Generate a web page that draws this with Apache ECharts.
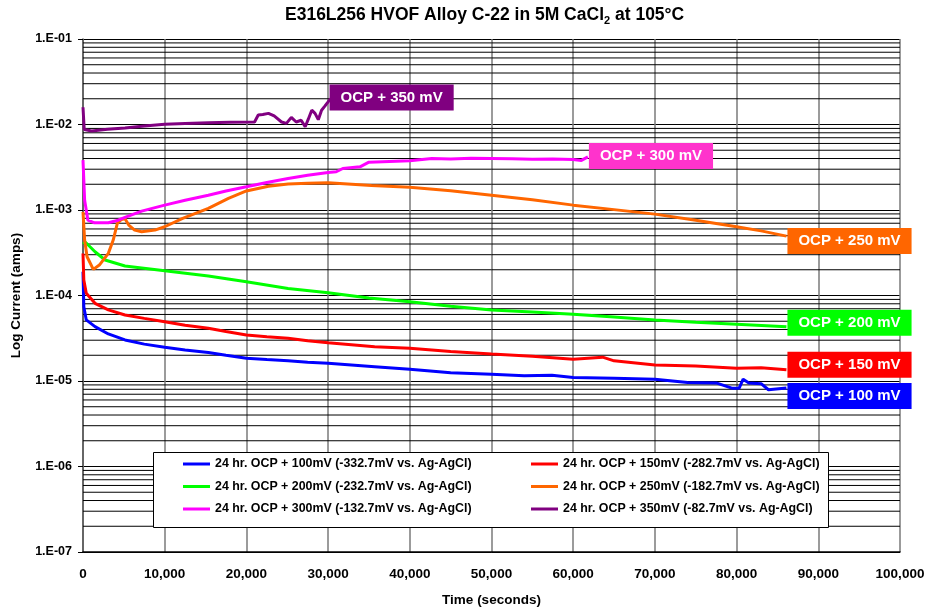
<!DOCTYPE html>
<html>
<head>
<meta charset="utf-8">
<script src="https://cdn.jsdelivr.net/npm/echarts@6/dist/echarts.min.js"></script>
<style>html,body{margin:0;padding:0;background:#fff}#c{width:930px;height:609px}</style>
</head>
<body>
<div id="c"></div>
<script>
// ---- data (time in seconds, current in amps) ----
const xTicks = [0, 10000, 20000, 30000, 40000, 50000, 60000, 70000, 80000, 90000, 100000];
const decades = [1e-7, 1e-6, 1e-5, 1e-4, 1e-3, 1e-2];
const minorMultipliers = [2, 3, 4, 5, 6, 7, 8, 9];

const seriesNames = [
  '24 hr. OCP + 100mV (-332.7mV vs. Ag-AgCl)',
  '24 hr. OCP + 150mV (-282.7mV vs. Ag-AgCl)',
  '24 hr. OCP + 200mV (-232.7mV vs. Ag-AgCl)',
  '24 hr. OCP + 250mV (-182.7mV vs. Ag-AgCl)',
  '24 hr. OCP + 300mV (-132.7mV vs. Ag-AgCl)',
  '24 hr. OCP + 350mV (-82.7mV vs. Ag-AgCl)'
];
const endLabels = ['OCP + 100 mV', 'OCP + 150 mV', 'OCP + 200 mV', 'OCP + 250 mV', 'OCP + 300 mV', 'OCP + 350 mV'];

const time100 = [0, 100, 400, 1470, 3100, 5140, 7500, 10000, 12500, 15340, 17500, 20000, 22500, 25100, 27500, 30000, 35700, 40000, 45000, 50000, 54000, 57400, 60000, 65000, 70000, 74000, 77500, 79500, 80300, 80800, 81500, 83000, 83900, 86100];
const cur100 = [1.9e-4, 7.4e-5, 5.18e-5, 4.32e-5, 3.55e-5, 3.02e-5, 2.7e-5, 2.48e-5, 2.3e-5, 2.15e-5, 2.0e-5, 1.85e-5, 1.78e-5, 1.72e-5, 1.66e-5, 1.61e-5, 1.47e-5, 1.37e-5, 1.25e-5, 1.2e-5, 1.15e-5, 1.17e-5, 1.1e-5, 1.08e-5, 1.05e-5, 9.6e-6, 9.5e-6, 8.2e-6, 8.2e-6, 1.05e-5, 9.5e-6, 9.3e-6, 7.9e-6, 8.3e-6];

const time150 = [0, 100, 400, 1470, 3100, 5140, 7500, 10000, 12500, 15340, 17500, 20000, 22500, 25100, 27500, 30000, 35700, 40000, 45000, 50000, 55000, 60000, 63600, 65000, 70000, 75000, 80000, 83000, 86100];
const cur150 = [3.1e-4, 1.52e-4, 1.06e-4, 8.1e-5, 6.78e-5, 5.92e-5, 5.4e-5, 4.94e-5, 4.5e-5, 4.14e-5, 3.8e-5, 3.46e-5, 3.3e-5, 3.16e-5, 2.95e-5, 2.81e-5, 2.52e-5, 2.42e-5, 2.22e-5, 2.07e-5, 1.95e-5, 1.8e-5, 1.9e-5, 1.72e-5, 1.54e-5, 1.5e-5, 1.41e-5, 1.43e-5, 1.35e-5];

const time200 = [0, 300, 1470, 2700, 5140, 10000, 15340, 20000, 25100, 30000, 35000, 40000, 45000, 50000, 55000, 60000, 65000, 70000, 75000, 80000, 86100];
const cur200 = [4.0e-4, 4.2e-4, 3.25e-4, 2.6e-4, 2.21e-4, 1.95e-4, 1.69e-4, 1.45e-4, 1.21e-4, 1.08e-4, 9.35e-5, 8.47e-5, 7.5e-5, 6.78e-5, 6.4e-5, 6.03e-5, 5.6e-5, 5.17e-5, 4.85e-5, 4.61e-5, 4.32e-5];

const time250 = [0, 200, 500, 1260, 2000, 3100, 3700, 4200, 4700, 5140, 5600, 6320, 7180, 8800, 10000, 12200, 15340, 17800, 20000, 22700, 25100, 27500, 30000, 35300, 40000, 45000, 50000, 55000, 60000, 65000, 70000, 75000, 80000, 83000, 86100];
const cur250 = [9.5e-4, 4.45e-4, 2.84e-4, 2.02e-4, 2.27e-4, 3.11e-4, 4.45e-4, 6.97e-4, 7.76e-4, 7.9e-4, 6.67e-4, 5.82e-4, 5.56e-4, 5.82e-4, 6.37e-4, 7.98e-4, 1.045e-3, 1.37e-3, 1.67e-3, 1.9e-3, 2.01e-3, 2.06e-3, 2.08e-3, 1.94e-3, 1.84e-3, 1.68e-3, 1.49e-3, 1.32e-3, 1.14e-3, 1.01e-3, 8.95e-4, 7.6e-4, 6.37e-4, 5.7e-4, 4.95e-4];

const time300 = [0, 200, 600, 1400, 3100, 4300, 5140, 7180, 10000, 12500, 15340, 17500, 20000, 22500, 25100, 27500, 30000, 31000, 31800, 33900, 35000, 37500, 40000, 42700, 45000, 47500, 50000, 52500, 55000, 57500, 60000, 61000, 61800];
const cur300 = [3.83e-3, 1.3e-3, 7.6e-4, 7.08e-4, 7.08e-4, 7.6e-4, 8.2e-4, 9.7e-4, 1.14e-3, 1.3e-3, 1.49e-3, 1.67e-3, 1.87e-3, 2.1e-3, 2.34e-3, 2.55e-3, 2.75e-3, 2.8e-3, 3.06e-3, 3.2e-3, 3.63e-3, 3.7e-3, 3.76e-3, 4.0e-3, 3.95e-3, 4.02e-3, 4.0e-3, 3.97e-3, 3.93e-3, 3.95e-3, 3.9e-3, 3.8e-3, 4.18e-3];

const time350 = [0, 150, 1060, 3000, 5140, 7500, 10000, 12500, 15340, 18000, 21000, 21450, 22000, 22700, 23400, 24300, 24900, 25500, 26100, 26700, 27200, 27600, 28000, 28400, 28800, 29200, 29600, 30000, 30300];
const cur350 = [1.59e-2, 8.75e-3, 8.4e-3, 8.8e-3, 9.1e-3, 9.6e-3, 1.007e-2, 1.03e-2, 1.05e-2, 1.06e-2, 1.07e-2, 1.29e-2, 1.31e-2, 1.35e-2, 1.26e-2, 1.07e-2, 1.03e-2, 1.21e-2, 1.07e-2, 1.12e-2, 9.4e-3, 1.17e-2, 1.47e-2, 1.35e-2, 1.14e-2, 1.47e-2, 1.64e-2, 1.84e-2, 2.01e-2];

// ---- styling ----
const FONT = '"Liberation Sans", Arial, sans-serif';
const lineColors = ['#0000FF', '#FF0000', '#00FF00', '#FF6600', '#FF00FF', '#800080'];
const boxColors = ['#0000FF', '#FF0000', '#00FF00', '#FF6600', '#FF33CC', '#800080'];
const lineWidths = [3, 3, 3, 3, 3, 3];
const labelOffsets = [[0, 8], [0, -5], [0, -4], [0, 5], [0, -1], [-2, -1]];

const times = [time100, time150, time200, time250, time300, time350];
const currents = [cur100, cur150, cur200, cur250, cur300, cur350];

// minor (2..9 per decade) horizontal gridlines, drawn through the axes as a helper line series
const minorGridData = [];
decades.forEach(d => minorMultipliers.forEach(m => {
  minorGridData.push([xTicks[0], d * m], [xTicks[xTicks.length - 1], d * m], [xTicks[xTicks.length - 1], null]);
}));

const chart = echarts.init(document.getElementById('c'), null, { renderer: 'canvas' });

const dataSeries = seriesNames.map((name, i) => ({
  name: name,
  type: 'line',
  data: times[i].map((t, k) => [t, currents[i][k]]),
  showSymbol: false,
  symbol: 'none',
  color: lineColors[i],
  lineStyle: { width: lineWidths[i], color: lineColors[i] },
  z: 3,
  endLabel: {
    show: true,
    formatter: endLabels[i],
    color: '#fff',
    backgroundColor: boxColors[i],
    fontFamily: FONT,
    fontWeight: 'bold',
    fontSize: 15,
    lineHeight: 16,
    padding: [5, 11, 5, 11],
    distance: 1,
    offset: labelOffsets[i]
  }
}));

const option = {
  animation: false,
  backgroundColor: '#fff',
  title: {
    text: '{a|E316L256 HVOF Alloy C-22 in 5M CaCl}{s|2}{a| at 105°C}',
    left: 285,
    top: 4,
    padding: 0,
    textStyle: {
      rich: {
        a: { fontFamily: FONT, fontWeight: 'bold', fontSize: 17.5, color: '#000', lineHeight: 22 },
        s: { fontFamily: FONT, fontWeight: 'bold', fontSize: 11, color: '#000', lineHeight: 12, verticalAlign: 'bottom' }
      }
    }
  },
  grid: { left: 83, top: 39, width: 817, height: 513, containLabel: false, outerBoundsMode: 'none' },
  xAxis: {
    type: 'value',
    min: 0,
    max: 100000,
    interval: 10000,
    name: 'Time (seconds)',
    nameLocation: 'middle',
    nameGap: 41,
    nameTextStyle: { fontFamily: FONT, fontWeight: 'bold', fontSize: 13.5, color: '#000' },
    axisLine: { show: true, lineStyle: { color: '#000', width: 1.5 } },
    axisTick: { show: false },
    axisLabel: {
      fontFamily: FONT, fontWeight: 'bold', fontSize: 13.5, color: '#000', margin: 15,
      formatter: v => v.toLocaleString('en-US')
    },
    splitLine: { show: true, lineStyle: { color: '#7a7a7a', width: 1.5 } }
  },
  yAxis: {
    type: 'log',
    logBase: 10,
    min: 1e-7,
    max: 1e-1,
    interval: 1,
    name: 'Log Current (amps)',
    nameLocation: 'middle',
    nameGap: 60,
    nameRotate: 90,
    nameTextStyle: { fontFamily: FONT, fontWeight: 'bold', fontSize: 13.5, color: '#000' },
    axisLine: { show: true, lineStyle: { color: '#555', width: 1.5 } },
    axisTick: { show: true, inside: false, length: 5, lineStyle: { color: '#000' } },
    axisLabel: {
      fontFamily: FONT, fontWeight: 'bold', fontSize: 12.5, color: '#000', margin: 11,
      formatter: v => {
        const e = Math.round(Math.log10(v));
        return '1.E' + (e < 0 ? '-' : '+') + String(Math.abs(e)).padStart(2, '0');
      }
    },
    splitLine: { show: true, lineStyle: { color: '#000', width: 1 } }
  },
  legend: [
    {
      data: [seriesNames[0], seriesNames[2], seriesNames[4]],
      left: 183, top: 457, orient: 'vertical', padding: 0,
      itemGap: 8.5, itemWidth: 27, itemHeight: 3, icon: 'rect',
      selectedMode: false,
      textStyle: { fontFamily: FONT, fontWeight: 'bold', fontSize: 12.4, color: '#000', lineHeight: 14 },
      z: 5
    },
    {
      data: [seriesNames[1], seriesNames[3], seriesNames[5]],
      left: 531, top: 457, orient: 'vertical', padding: 0,
      itemGap: 8.5, itemWidth: 27, itemHeight: 3, icon: 'rect',
      selectedMode: false,
      textStyle: { fontFamily: FONT, fontWeight: 'bold', fontSize: 12.4, color: '#000', lineHeight: 14 },
      z: 5
    }
  ],
  graphic: [
    {
      type: 'rect', left: 153, top: 452, z: 4,
      shape: { width: 675, height: 75 },
      style: { fill: '#fff', stroke: '#000', lineWidth: 1 }
    }
  ],
  series: [
    {
      name: '_minorGrid',
      type: 'line',
      data: minorGridData,
      z: 1,
      silent: true,
      symbol: 'none',
      showSymbol: false,
      connectNulls: false,
      lineStyle: { color: '#000', width: 1 },
      emphasis: { disabled: true }
    }
  ].concat(dataSeries)
};

chart.setOption(option);
</script>
</body>
</html>
